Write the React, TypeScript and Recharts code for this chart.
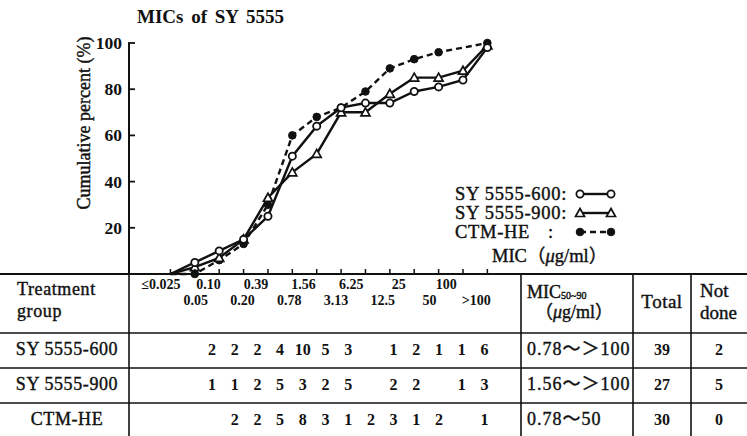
import React from "react";
import { LineChart, Line, XAxis, YAxis } from "recharts";

// MIC steps (µg/ml) along the x axis
const micLabels = ["≤0.025", "0.05", "0.10", "0.20", "0.39", "0.78", "1.56", "3.13", "6.25", "12.5", "25", "50", "100", ">100"];

// cumulative percent
const sy600Cum = [0, 5, 10, 15, 25, 51, 64, 72, 74, 74, 79, 81, 84, 98];
const sy900Cum = [0, 3, 7, 15, 33, 44, 52, 70, 70, 78, 85, 85, 88, 99];
const ctmCum = [0, 0, 6, 13, 30, 60, 68, 72, 79, 89, 93, 96, null, 100];

// table rows (counts per MIC step from 0.05 to >100)
const groups = ["SY 5555-600", "SY 5555-900", "CTM-HE"];
const sy600Counts = [2, 2, 2, 4, 10, 5, 3, null, 1, 2, 1, 1, 6];
const sy900Counts = [1, 1, 2, 5, 3, 2, 5, null, 2, 2, null, 1, 3];
const ctmCounts = [null, 2, 2, 5, 8, 3, 1, 2, 3, 1, 2, null, 1];
const mic5090 = ["0.78～＞100", "1.56～＞100", "0.78～50"];
const totals = [39, 27, 30];
const notDone = [2, 5, 0];

const INK = "#111";
const SERIF = '"Liberation Serif", "Noto Sans CJK JP", serif';
// scanned print looks heavier than a plain regular face
const heavy = { stroke: INK, strokeWidth: 0.4 } as const;

const data = micLabels.map((label, i) => ({
  idx: i,
  label,
  sy600: sy600Cum[i],
  sy900: sy900Cum[i],
  ctm: ctmCum[i],
}));

// eslint-disable-next-line @typescript-eslint/no-explicit-any
const OpenCircle = (p: any) =>
  p.index === 0 || p.cy == null ? <g key={p.key} /> : (
    <circle key={p.key} cx={p.cx} cy={p.cy} r={3.6} fill="#fff" stroke={INK} strokeWidth={1.8} />
  );

// eslint-disable-next-line @typescript-eslint/no-explicit-any
const OpenTriangle = (p: any) =>
  p.index === 0 || p.cy == null ? <g key={p.key} /> : (
    <path
      key={p.key}
      d={`M${p.cx},${p.cy - 4.5} L${p.cx + 4.5},${p.cy + 3.5} L${p.cx - 4.5},${p.cy + 3.5} Z`}
      fill="#fff"
      stroke={INK}
      strokeWidth={1.7}
    />
  );

// eslint-disable-next-line @typescript-eslint/no-explicit-any
const FilledDot = (p: any) =>
  p.index === 0 || p.cy == null ? <g key={p.key} /> : (
    <circle key={p.key} cx={p.cx} cy={p.cy} r={3.8} fill={INK} stroke={INK} />
  );

// eslint-disable-next-line @typescript-eslint/no-explicit-any
const XTick = ({ x, y, payload }: any) => {
  const i = payload.value as number;
  const odd = i % 2 === 1;
  const dx = odd ? 2 - 1.0 * i : -9.5 - 0.6 * i;
  return (
    <g>
      <line x1={x} y1={y} x2={x} y2={y - 5} stroke={INK} strokeWidth={1.5} />
      <text
        x={x + dx}
        y={y + (odd ? 31 : 15)}
        textAnchor="middle"
        fontFamily={SERIF}
        fontWeight="bold"
        fontSize={14}
        fill={INK}
      >
        {micLabels[i]}
      </text>
    </g>
  );
};

// eslint-disable-next-line @typescript-eslint/no-explicit-any
const YTick = ({ x, y, payload }: any) => (
  <g>
    <line x1={x - 1} y1={y} x2={x + 6} y2={y} stroke={INK} strokeWidth={1.8} />
    <text x={x - 7} y={y + 6} textAnchor="end" fontFamily={SERIF} fontWeight="bold" fontSize={17.5} fill={INK}>
      {payload.value}
    </text>
  </g>
);

const series = [
  { key: "sy600", name: "SY 5555-600", dash: undefined, Dot: OpenCircle },
  { key: "sy900", name: "SY 5555-900", dash: undefined, Dot: OpenTriangle },
  { key: "ctm", name: "CTM-HE", dash: "6 4", Dot: FilledDot },
];

// table layout
const rowTops = [333, 368, 403];
const slotX = (i: number) => 212 + 22.7 * i;
const countRows = [sy600Counts, sy900Counts, ctmCounts];

function Table() {
  const txt = { fontFamily: SERIF, fill: INK } as const;
  return (
    <svg width={747} height={436} style={{ position: "absolute", left: 0, top: 0, pointerEvents: "none" }}>
      {/* horizontal rules */}
      <line x1={0} y1={274} x2={747} y2={274} stroke={INK} strokeWidth={2} />
      {rowTops.map((y) => (
        <line key={y} x1={0} y1={y} x2={747} y2={y} stroke={INK} strokeWidth={1.6} />
      ))}
      {/* vertical rules */}
      {[129, 521, 633, 691].map((x) => (
        <line key={x} x1={x} y1={274} x2={x} y2={436} stroke={INK} strokeWidth={1.6} />
      ))}

      {/* header */}
      <text x={17} y={295} fontSize={18} letterSpacing={0.6} {...txt} {...heavy}>Treatment</text>
      <text x={17} y={317} fontSize={18} letterSpacing={0.6} {...txt} {...heavy}>group</text>
      <text x={527} y={298} fontSize={18} {...txt} {...heavy}>
        MIC<tspan fontSize={10} dy={1}>50~90</tspan>
      </text>
      <text x={574} y={318} fontSize={18} textAnchor="middle" {...txt} {...heavy}>
        （<tspan fontStyle="italic">μ</tspan>g/ml）
      </text>
      <text x={662} y={308} fontSize={19} textAnchor="middle" letterSpacing={0.5} {...txt} {...heavy}>Total</text>
      <text x={700} y={297} fontSize={19} {...txt} {...heavy}>Not</text>
      <text x={700} y={319} fontSize={19} {...txt} {...heavy}>done</text>

      {/* rows */}
      {groups.map((g, r) => {
        const cy = rowTops[r] + 22;
        return (
          <g key={g}>
            <text x={67} y={cy} fontSize={18} textAnchor="middle" letterSpacing={0.6} {...txt} {...heavy}>{g}</text>
            {countRows[r].map((c, i) =>
              c == null ? null : (
                <text key={i} x={slotX(i)} y={cy} fontSize={16} fontWeight="bold" textAnchor="middle" {...txt}>
                  {c}
                </text>
              )
            )}
            <text x={527} y={cy} fontSize={18} letterSpacing={1} {...txt} {...heavy}>{mic5090[r]}</text>
            <text x={662} y={cy} fontSize={16} fontWeight="bold" textAnchor="middle" {...txt}>{totals[r]}</text>
            <text x={719} y={cy} fontSize={16} fontWeight="bold" textAnchor="middle" {...txt}>{notDone[r]}</text>
          </g>
        );
      })}
    </svg>
  );
}

function LegendBox() {
  const rows = [
    { label: "SY 5555-600:", y: 194, s: series[0] },
    { label: "SY 5555-900:", y: 213, s: series[1] },
    { label: "CTM-HE", y: 232, s: series[2] },
  ];
  return (
    <svg width={747} height={436} style={{ position: "absolute", left: 0, top: 0, pointerEvents: "none" }}>
      {rows.map(({ label, y, s }) => (
        <g key={label}>
          <text x={455} y={y + 6} fontFamily={SERIF} fontSize={18.5} letterSpacing={0.7} fill={INK} {...heavy}>
            {label}
          </text>
          {s.key === "ctm" && (
            <text x={548} y={y + 6} fontFamily={SERIF} fontSize={18.5} fill={INK} {...heavy}>:</text>
          )}
          <line x1={580} y1={y} x2={611} y2={y} stroke={INK} strokeWidth={2.4} strokeDasharray={s.dash} />
          {s.Dot({ key: "a", index: 1, cx: 580, cy: y })}
          {s.Dot({ key: "b", index: 1, cx: 611, cy: y })}
        </g>
      ))}
      <text x={492} y={262} fontFamily={SERIF} fontSize={18.5} fill={INK} {...heavy}>
        MIC（<tspan fontStyle="italic">μ</tspan>g/ml）
      </text>
      <text x={137} y={23} fontFamily={SERIF} fontSize={19} fontWeight="bold" wordSpacing={3} fill={INK}>
        MICs of SY 5555
      </text>
      <text
        transform="translate(90,123) rotate(-90)"
        textAnchor="middle"
        fontFamily={SERIF}
        fontSize={18}
        fill={INK}
        {...heavy}
      >
        Cumulative percent (%)
      </text>
    </svg>
  );
}

export default function App() {
  return (
    <div style={{ position: "absolute", left: 0, top: 0, width: 747, height: 436, background: "#fff" }}>
      <LineChart width={747} height={436} data={data} margin={{ top: 43, right: 226, bottom: 132, left: 69 }}>
        <XAxis
          type="number"
          dataKey="idx"
          domain={[-1.7, 14.38]}
          ticks={micLabels.map((_, i) => i)}
          interval={0}
          axisLine={false}
          tickLine={false}
          tickSize={0}
          tickMargin={0}
          height={30}
          tick={<XTick />}
        />
        <YAxis
          type="number"
          domain={[0, 100]}
          ticks={[20, 40, 60, 80, 100]}
          width={60}
          axisLine={{ stroke: INK, strokeWidth: 2 }}
          tickLine={false}
          tickSize={0}
          tickMargin={0}
          tick={<YTick />}
        />
        {[...series].reverse().map((s) => (
          <Line
            key={s.key}
            dataKey={s.key}
            name={s.name}
            type="linear"
            stroke={INK}
            strokeWidth={2.4}
            strokeDasharray={s.dash}
            connectNulls
            dot={s.Dot}
            activeDot={false}
            isAnimationActive={false}
          />
        ))}
      </LineChart>
      <Table />
      <LegendBox />
    </div>
  );
}
